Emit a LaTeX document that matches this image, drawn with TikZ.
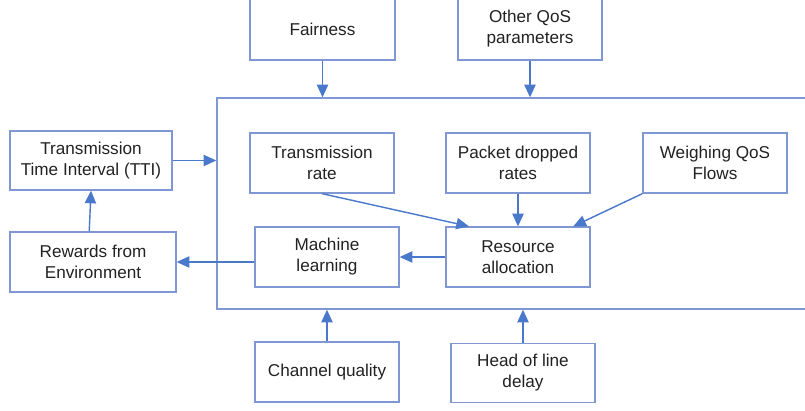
\documentclass[tikz,border=0pt]{standalone}
\usepackage{fontspec}
\setmainfont{Liberation Sans}
\usetikzlibrary{arrows.meta}
\definecolor{boxline}{HTML}{7F97D3}
\definecolor{arrline}{HTML}{4A78CB}
\definecolor{txt}{HTML}{222222}

\begin{document}
\begin{tikzpicture}[x=0.025cm, y=-0.025cm,
  box/.style={draw=boxline, line width=0.9pt, text=txt, align=center,
    font=\fontsize{12.2}{15}\selectfont, minimum width=3.6cm,
    minimum height=1.5cm, inner sep=2pt},
  arr/.style={draw=arrline, line width=1pt, -{Triangle[length=9pt,width=8pt]}}]
\clip (0,0) rectangle (805,410);
% outer frame (its right side is cut off)
\node[box, minimum width=15.325cm, minimum height=5.275cm] (frame) at (523.5,203.5) {};
% inputs from above and below
\node[box, minimum width=3.625cm, minimum height=1.55cm] (fair) at (322.5,29) {Fairness};
\node[box, minimum height=1.55cm] (qos) at (530,29) {Other QoS\\parameters};
\node[box] (chan) at (327,372) {Channel quality};
\node[box, minimum height=1.475cm] (hol) at (523,373) {Head of line\\delay};
% left side
\node[box, minimum width=4.05cm, minimum height=1.475cm] (tti) at (91,160.5) {Transmission\\Time Interval (TTI)};
\node[box, minimum width=4.15cm] (reward) at (93,262) {Rewards from\\Environment};
% inside the frame
\node[box] (rate) at (322,163) {Transmission\\rate};
\node[box] (drop) at (518,163) {Packet dropped\\rates};
\node[box] (weigh) at (715,163) {Weighing QoS\\Flows};
\node[box] (ml) at (327,257) {Machine\\learning};
\node[box] (alloc) at (518,257) {Resource\\allocation};

\draw[arr] (fair) -- (fair |- frame.north);
\draw[arr] (qos) -- (qos |- frame.north);
\draw[arr] (chan) -- (chan |- frame.south);
\draw[arr] (hol) -- (hol |- frame.south);
\draw[arr] (tti.east) -- (tti.east -| frame.west);
\draw[arr] (reward.97) -- (tti.south);
\draw[arr] (ml.west |- reward.east) -- (reward.east);
\draw[arr] (alloc.west) -- (alloc.west -| ml.east);
\draw[arr] (rate.south) -- (alloc.148);
\draw[arr] (drop) -- (alloc);
\draw[arr] (weigh.south west) -- (alloc.29);
\end{tikzpicture}
\end{document}
